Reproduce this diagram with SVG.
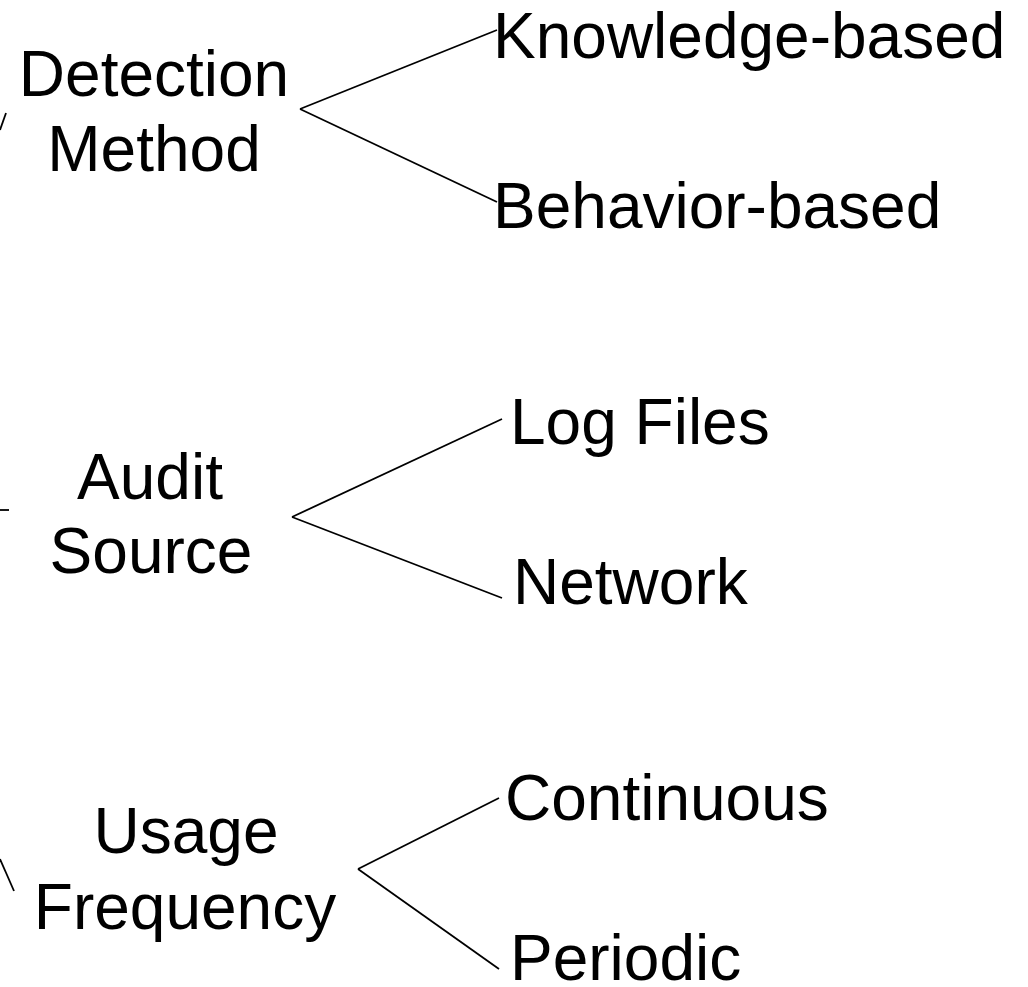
<svg xmlns="http://www.w3.org/2000/svg" width="1028" height="987" viewBox="0 0 1028 987">
<style>
text{font-family:"Liberation Sans",Arial,sans-serif;font-size:64px;fill:#000}
.m{text-anchor:middle}
line{stroke:#000;stroke-width:1.8;fill:none}
</style>
<rect width="1028" height="987" fill="#fff"/>
<g id="connectors">
<line x1="6" y1="113" x2="0" y2="130"/>
<line x1="0" y1="510" x2="9" y2="510"/>
<line x1="0" y1="859" x2="14" y2="891"/>
<line x1="300" y1="109" x2="497" y2="30"/>
<line x1="300" y1="109" x2="497" y2="202"/>
<line x1="292" y1="517" x2="502" y2="419"/>
<line x1="292" y1="517" x2="502" y2="598"/>
<line x1="358" y1="869" x2="499" y2="798"/>
<line x1="358" y1="869" x2="499" y2="969"/>
</g>
<g id="detection-method"><text class="m" x="154" y="96">Detection</text><text class="m" x="154" y="171">Method</text></g>
<g id="knowledge-based"><text x="493" y="58">Knowledge-based</text></g>
<g id="behavior-based"><text x="493" y="228">Behavior-based</text></g>
<g id="audit-source"><text class="m" x="150" y="499">Audit</text><text class="m" x="151" y="573">Source</text></g>
<g id="log-files"><text x="510" y="444">Log Files</text></g>
<g id="network"><text x="513" y="604">Network</text></g>
<g id="usage-frequency"><text class="m" x="186" y="853">Usage</text><text class="m" x="185" y="929">Frequency</text></g>
<g id="continuous"><text x="505" y="820">Continuous</text></g>
<g id="periodic"><text x="510" y="980">Periodic</text></g>
</svg>
